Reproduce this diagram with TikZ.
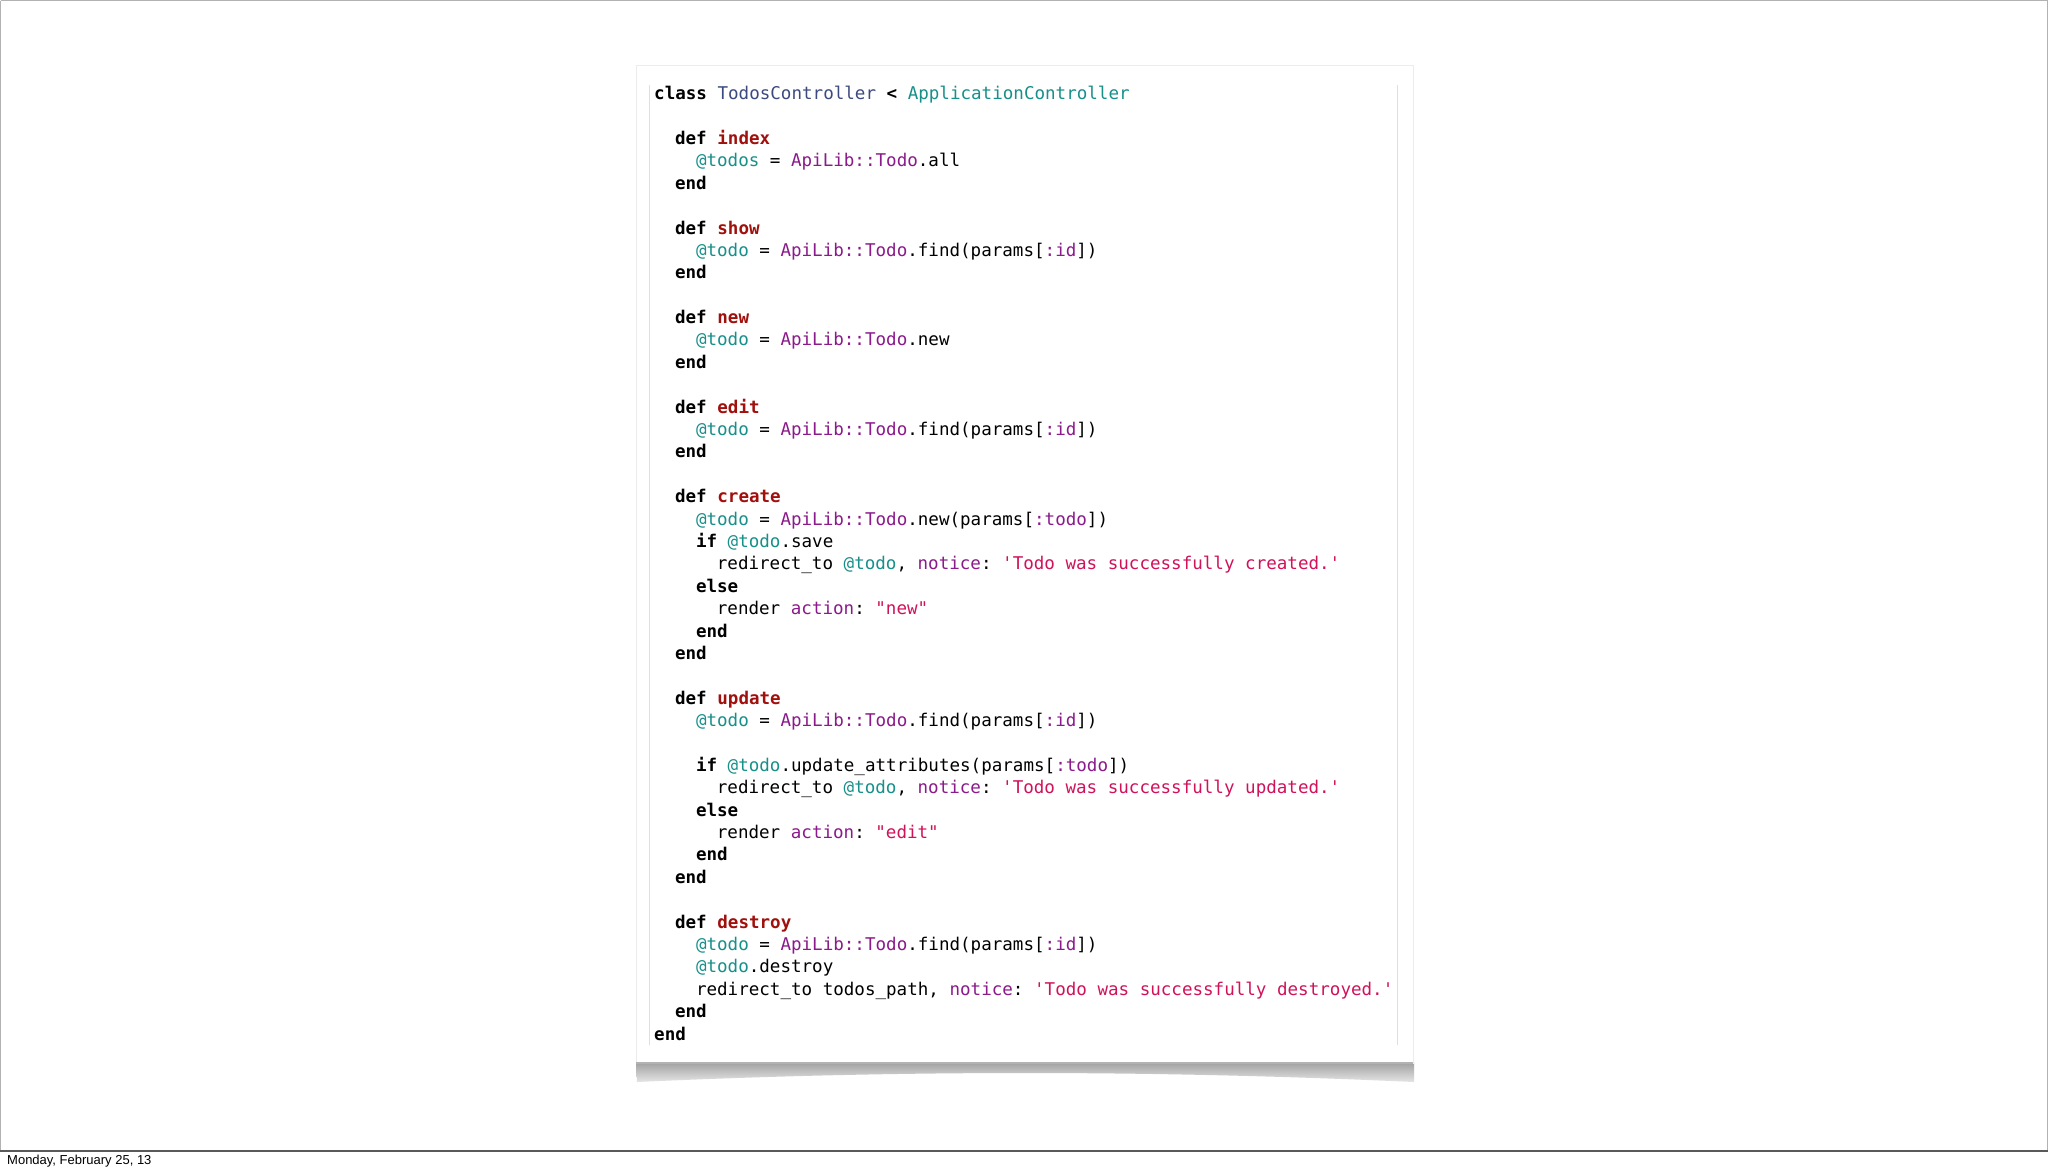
\documentclass[tikz,border=0pt]{standalone}
\usepackage{fontspec}
\setmainfont{Liberation Sans}
\setmonofont{DejaVu Sans Mono}
\definecolor{clsc}{HTML}{3D4A7F}
\definecolor{teal2}{HTML}{17908A}
\definecolor{fnred}{HTML}{A0100C}
\definecolor{purp}{HTML}{8B1A8B}
\definecolor{strc}{HTML}{D0125A}
\newcommand\kw[1]{\textbf{#1}}
\newcommand\fnn[1]{\textcolor{fnred}{\textbf{#1}}}
\newcommand\iv[1]{\textcolor{teal2}{#1}}
\newcommand\cnn[1]{\textcolor{purp}{#1}}
\newcommand\stt[1]{\textcolor{strc}{#1}}
\newcommand\api{\cnn{ApiLib::Todo}}
\newcommand\findid{\iv{@todo} = \api.find(params[\cnn{:id}])}
\begin{document}
\begin{tikzpicture}[x=1pt,y=-1pt,
  code/.style={anchor=base west,inner sep=0pt,font=\ttfamily\fontsize{17.55}{20}\selectfont}]
\useasboundingbox (0,0) rectangle (2048,1173);
\fill[white] (0,0) rectangle (2048,1173);
\draw[gray!60,line width=1pt] (0.5,0.5) -- (2047.5,0.5);
\draw[gray!60,line width=1pt] (0.5,0.5) -- (0.5,1151);
\draw[gray!60,line width=1pt] (2047.5,0.5) -- (2047.5,1151);
\draw[gray!70!black,line width=1.5pt] (0,1151) -- (2048,1151);
\node[anchor=west,inner sep=0pt,font=\fontsize{13}{15}\selectfont] (foot) at (7,1161) {Monday, February 25, 13};
% shadow
\shade[top color=gray!75,bottom color=gray!20] (636,1062) -- (637,1082) .. controls (900,1070) and (1150,1070) .. (1414,1082) -- (1414,1062) -- cycle;
\fill[white,draw=gray!15] (636,65) rectangle (1413,1063);
\draw[gray!60,line width=1.2pt] (636,1063) -- (1413,1063);
\draw[gray!25] (649,85) -- (649,1045);
\draw[gray!25] (1397,85) -- (1397,1045);
\def\X{654}\def\C{10.45}\def\Y{93.7}\def\D{22.39}
\newcommand\cl[4]{\node[code] (#1) at ({\X+#2*\C},{\Y+#3*\D+6}) {#4};}
\cl{l0}{0}{0}{\kw{class} \textcolor{clsc}{TodosController} \kw{<} \iv{ApplicationController}}
\cl{l2}{2}{2}{\kw{def} \fnn{index}}
\cl{l3}{4}{3}{\iv{@todos} = \api.all}
\cl{l4}{2}{4}{\kw{end}}
\cl{l6}{2}{6}{\kw{def} \fnn{show}}
\cl{l7}{4}{7}{\findid}
\cl{l8}{2}{8}{\kw{end}}
\cl{l10}{2}{10}{\kw{def} \fnn{new}}
\cl{l11}{4}{11}{\iv{@todo} = \api.new}
\cl{l12}{2}{12}{\kw{end}}
\cl{l14}{2}{14}{\kw{def} \fnn{edit}}
\cl{l15}{4}{15}{\findid}
\cl{l16}{2}{16}{\kw{end}}
\cl{l18}{2}{18}{\kw{def} \fnn{create}}
\cl{l19}{4}{19}{\iv{@todo} = \api.new(params[\cnn{:todo}])}
\cl{l20}{4}{20}{\kw{if} \iv{@todo}.save}
\cl{l21}{6}{21}{redirect\_to \iv{@todo}, \cnn{notice}: \stt{'Todo was successfully created.'}}
\cl{l22}{4}{22}{\kw{else}}
\cl{l23}{6}{23}{render \cnn{action}: \stt{"new"}}
\cl{l24}{4}{24}{\kw{end}}
\cl{l25}{2}{25}{\kw{end}}
\cl{l27}{2}{27}{\kw{def} \fnn{update}}
\cl{l28}{4}{28}{\findid}
\cl{l30}{4}{30}{\kw{if} \iv{@todo}.update\_attributes(params[\cnn{:todo}])}
\cl{l31}{6}{31}{redirect\_to \iv{@todo}, \cnn{notice}: \stt{'Todo was successfully updated.'}}
\cl{l32}{4}{32}{\kw{else}}
\cl{l33}{6}{33}{render \cnn{action}: \stt{"edit"}}
\cl{l34}{4}{34}{\kw{end}}
\cl{l35}{2}{35}{\kw{end}}
\cl{l37}{2}{37}{\kw{def} \fnn{destroy}}
\cl{l38}{4}{38}{\findid}
\cl{l39}{4}{39}{\iv{@todo}.destroy}
\cl{l40}{4}{40}{redirect\_to todos\_path, \cnn{notice}: \stt{'Todo was successfully destroyed.'}}
\cl{l41}{2}{41}{\kw{end}}
\cl{l42}{0}{42}{\kw{end}}
\end{tikzpicture}
\end{document}
